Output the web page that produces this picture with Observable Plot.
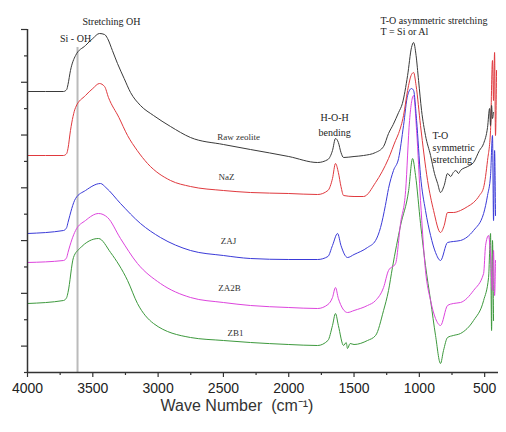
<!DOCTYPE html>
<html><head><meta charset="utf-8">
<script src="https://cdn.jsdelivr.net/npm/d3@7"></script>
<script src="https://cdn.jsdelivr.net/npm/@observablehq/plot@0.6"></script>
<style>body{margin:0;background:#fff}#chart{width:506px;height:432px}</style>
</head><body><div id="chart"></div>
<script>
// Wavenumber (cm-1), transmittance (a.u., offset)
const rawZeolite = [[4000,281],[3724,281],[3700,283],[3690,288],[3671,302],[3632,317],[3556,327],[3500,334],[3449,339],[3410,338],[3387,334],[3350,322],[3311,309],[3260,294],[3211,280],[3135,267],[3035,257],[2905,246],[2752,235],[2500,228],[2293,223],[2000,216],[1779,210],[1700,213],[1665,222],[1642,234],[1620,230],[1600,220],[1580,215],[1500,216],[1427,217],[1335,220],[1274,226],[1236,239],[1200,248],[1159,260],[1130,269],[1090,297],[1060,325],[1044,330],[1025,317],[1006,292],[983,262],[953,237],[914,217],[884,199],[860,189],[838,180],[810,187],[784,199],[760,196],[740,200],[720,202],[700,199],[685,202],[630,206],[585,210],[540,222],[508,229],[478,245],[462,264],[455,247],[447,267],[440,254],[432,260]];
const naZ = [[4000,217],[3724,217],[3700,219],[3690,224],[3671,242],[3632,265],[3556,277],[3500,284],[3449,289],[3410,286],[3380,275],[3300,255],[3234,237],[3160,222],[3081,209],[2905,192],[2752,186],[2500,182],[2293,180],[2000,179],[1779,178],[1700,182],[1665,194],[1642,209],[1620,200],[1600,186],[1580,177],[1500,176],[1427,176],[1335,190],[1236,214],[1182,232],[1159,239],[1121,257],[1090,282],[1060,298],[1044,300],[1025,287],[991,247],[937,192],[891,162],[838,140],[810,147],[784,160],[740,160],[685,162],[630,166],[585,170],[540,177],[508,185],[478,212],[455,242],[440,312],[432,272],[424,320],[417,237],[409,302]];
const zaj = [[4000,139],[3724,142],[3700,145],[3690,150],[3632,174],[3556,182],[3441,189],[3400,185],[3288,169],[3135,149],[2982,135],[2752,122],[2500,117],[2293,114],[2000,113],[1779,113],[1700,116],[1665,127],[1626,139],[1600,127],[1550,115],[1500,118],[1397,125],[1335,132],[1297,145],[1260,167],[1236,184],[1198,202],[1159,214],[1121,247],[1090,277],[1060,284],[1044,282],[1021,252],[991,197],[953,162],[914,137],[876,120],[838,112],[784,130],[740,131],[685,132],[585,142],[508,159],[478,177],[455,197],[440,237],[432,152],[424,222],[417,157]];
const za2b = [[4000,110],[3724,112],[3700,115],[3690,120],[3632,142],[3556,152],[3456,159],[3387,155],[3288,134],[3158,109],[2982,89],[2752,75],[2500,70],[2293,67],[2000,65],[1779,64],[1700,68],[1665,75],[1642,85],[1620,74],[1550,60],[1500,62],[1397,67],[1335,72],[1274,85],[1236,102],[1182,109],[1144,149],[1105,182],[1075,252],[1044,277],[1021,242],[991,172],[953,102],[914,72],[876,54],[838,47],[784,67],[740,69],[685,70],[585,82],[508,99],[493,127],[470,137],[455,117],[440,82],[432,122],[424,77],[417,112]];
const zb1 = [[4000,69],[3724,72],[3700,75],[3690,80],[3648,115],[3600,124],[3456,134],[3364,120],[3234,92],[3158,69],[3035,49],[2752,35],[2500,32],[2293,30],[2000,28],[1779,27],[1700,32],[1665,47],[1642,59],[1620,47],[1580,27],[1560,30],[1550,24],[1530,29],[1500,28],[1397,32],[1335,37],[1274,62],[1236,82],[1206,105],[1144,147],[1082,182],[1052,214],[1029,197],[991,149],[953,107],[914,72],[876,37],[838,9],[815,22],[784,35],[740,37],[685,39],[585,52],[508,72],[470,95],[455,139],[447,42],[440,132],[432,52]];

const seriesNames = ["ZB1","ZA2B","ZAJ","NaZ","Raw zeolite"];
const seriesColors = ["#3d993d","#dd44dd","#3a3ad8","#e0393e","#3a3a3a"];
const seriesData = [zb1, za2b, zaj, naZ, rawZeolite];

const curveLabels = [
  {w:2384, v:235, t:"Raw zeolite"},
  {w:2476, v:195, t:"NaZ"},
  {w:2461, v:131, t:"ZAJ"},
  {w:2453, v:84, t:"ZA2B"},
  {w:2407, v:39, t:"ZB1"}
];
const bandLabelsCentered = [
  {w:3357, v:351, t:"Stretching OH"},
  {w:3632, v:334, t:"Si - OH"},
  {w:1649, v:255, t:"H-O-H"},
  {w:1649, v:240, t:"bending"}
];
const bandLabelsLeft = [
  {w:1297, v:352, t:"T-O asymmetric stretching"},
  {w:1297, v:341, t:"T = Si or Al"},
  {w:899, v:237, t:"T-O"},
  {w:899, v:225, t:"symmetric"},
  {w:899, v:213, t:"stretching"}
];
const siOHLine = [{w:3617, top:325}];
const majorX = [4000,3500,3000,2500,2000,1500,1000,500];
const minorX = [3750,3250,2750,2250,1750,1250,750];
const majorY = [0,1,2,3,4,5,6].map(i => 26.385 + i*52.77);
const minorY = [0,1,2,3,4,5,6].map(i => i*52.77);
const xLabel = "Wave Number  (cm\u207B\u00B9)";

const rows = seriesData.flatMap((d, i) => d.map(([w, v]) => ({name: seriesNames[i], w, v})));
const serif = "'Liberation Serif', 'Times New Roman', serif";

const plot = Plot.plot({
  width: 506, height: 432,
  marginLeft: 27, marginRight: 8, marginTop: 29, marginBottom: 60,
  style: {background: "#fff", fontFamily: "'Liberation Sans', Arial, sans-serif", color: "#222"},
  x: {domain: [4000, 394]},
  y: {domain: [0, 343]},
  color: {domain: seriesNames, range: seriesColors},
  marks: [
    Plot.ruleX(siOHLine, {x: "w", y1: 0, y2: "top", stroke: "#bbbbbb", strokeWidth: 2}),
    Plot.line(rows, {x: "w", y: "v", z: "name", stroke: "name", strokeWidth: 1, curve: "monotone-x"}),
    Plot.axisX({ticks: majorX, tickSize: 5, tickPadding: 6, fontSize: 14, tickFormat: d => String(d), label: null, stroke: "#333", strokeWidth: 1.2}),
    Plot.axisX({ticks: minorX, tickSize: 3, tickFormat: () => "", label: null, stroke: "#333", strokeWidth: 1.2}),
    Plot.axisY({ticks: majorY, tickSize: 6, tickFormat: () => "", label: null, stroke: "#333", strokeWidth: 1.2}),
    Plot.axisY({ticks: minorY, tickSize: 3, tickFormat: () => "", label: null, stroke: "#333", strokeWidth: 1.2}),
    Plot.ruleY([0], {stroke: "#333", strokeWidth: 1.5}),
    Plot.ruleX([4000], {stroke: "#333", strokeWidth: 1.5}),
    Plot.text(curveLabels, {x: "w", y: "v", text: "t", fontFamily: serif, fontSize: 9, fill: "#333"}),
    Plot.text(bandLabelsCentered, {x: "w", y: "v", text: "t", textAnchor: "middle", fontFamily: serif, fontSize: 10, fill: "#222"}),
    Plot.text(bandLabelsLeft, {x: "w", y: "v", text: "t", textAnchor: "start", fontFamily: serif, fontSize: 10, fill: "#222"}),
    Plot.text([xLabel], {text: d => d, frameAnchor: "bottom", dy: 38, dx: -26, fontSize: 16, fill: "#333"})
  ]
});
document.getElementById("chart").appendChild(plot);
</script>
</body></html>
